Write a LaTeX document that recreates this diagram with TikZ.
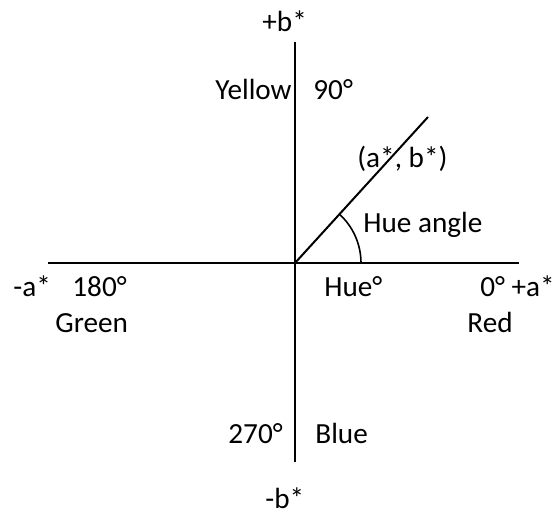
\documentclass[tikz,border=0pt]{standalone}
\usepackage{fontspec}
\setmainfont{Carlito}
\begin{document}
\begin{tikzpicture}[x=0.5pt,y=-0.5pt]
		\tikzset{lbl/.style={anchor=base west, inner sep=0pt, font=\fontsize{14.6}{17}\selectfont},
			axis/.style={line width=1pt}}
		\useasboundingbox (0,0) rectangle (553,514);
		\coordinate (origin) at (295,263);
		\coordinate (top) at (295,42);
		\coordinate (bottom) at (295,462);
		\coordinate (left) at (48,263);
		\coordinate (right) at (519,263);
		\coordinate (point) at (428,117);
		\coordinate (foot) at (361,263);
		\draw[axis] (top) -- (bottom);
		\draw[axis] (left) -- (right);
		\draw[axis] (origin) -- (point);
		\draw[line width=0.8pt] (foot) arc[start angle=0, end angle=47.7, radius=33pt];
		\node[lbl] (pb) at (262,32) {+b*};
		\node[lbl] (yellow) at (215,99) {Yellow};
		\node[lbl] (ninety) at (313,99) {90°};
		\node[lbl] (ab) at (357,168) {(a*, b*)};
		\node[lbl] (hueangle) at (363,233) {Hue angle};
		\node[lbl] (ma) at (13,296) {-a*};
		\node[lbl] (oneeighty) at (72,296) {180°};
		\node[lbl] (hue) at (324,296) {Hue°};
		\node[lbl] (zero) at (480,296) {0° +a*};
		\node[lbl] (green) at (55,332) {Green};
		\node[lbl] (red) at (467,332) {Red};
		\node[lbl] (twoseventy) at (228,443) {270°};
		\node[lbl] (blue) at (315,443) {Blue};
		\node[lbl] (mb) at (265,508) {-b*};
\end{tikzpicture}
\end{document}
